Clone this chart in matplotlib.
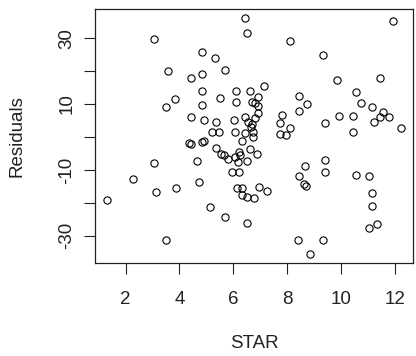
import matplotlib.pyplot as plt

# STAR score vs model residuals
star = [6.42, 6.51, 3.05, 11.94, 8.11, 4.82, 5.32, 9.33, 3.59, 5.71,
        4.43, 4.82, 9.85, 11.46, 7.13, 4.82, 6.11, 6.63, 10.56, 3.82,
        3.51, 5.52, 4.82, 6.11, 6.68, 6.92, 6.92, 6.80, 8.43, 10.73,
        8.73, 8.43, 11.15, 11.55, 11.77, 11.45, 11.24, 12.24, 9.94, 10.46,
        9.41, 7.82, 7.72, 8.11, 7.72, 7.96, 10.46, 4.43, 4.91, 5.34,
        5.21, 5.46, 6.04, 6.44, 6.56, 6.80, 6.92, 6.68, 6.07, 6.44,
        6.74, 6.32, 6.72, 6.66, 4.82, 4.93, 4.36, 4.43, 5.34, 5.53,
        5.64, 5.81, 6.07, 6.21, 6.25, 6.62, 6.89, 6.19, 6.50, 5.95,
        6.22, 1.30, 2.29, 3.04, 3.12, 3.89, 3.51, 4.72, 4.64, 5.12,
        5.71, 6.51, 6.12, 6.34, 6.31, 6.51, 6.78, 6.95, 7.25, 9.42,
        8.65, 9.42, 8.43, 8.64, 8.72, 10.56, 11.03, 11.15, 11.15, 11.33,
        11.03, 8.42, 9.33, 8.86]

residuals = [36.0, 31.5, 29.7, 35.2, 29.0, 25.8, 24.0, 24.8, 20.1, 20.4,
             17.9, 19.0, 17.2, 17.9, 15.5, 13.9, 13.9, 13.9, 13.6, 11.5,
             9.0, 11.9, 9.6, 10.5, 10.7, 12.2, 9.4, 10.2, 12.4, 10.4,
             9.9, 8.0, 9.0, 7.6, 6.2, 6.2, 4.6, 2.8, 6.4, 6.4,
             4.2, 6.8, 4.2, 2.8, 1.0, 0.6, 1.4, 6.2, 5.2, 4.4,
             1.4, 1.6, 5.2, 6.1, 4.5, 5.8, 7.3, 3.9, 1.4, 1.2,
             1.6, -1.1, -0.1, 3.0, -1.5, -1.2, -1.9, -2.2, -3.2, -5.2,
             -5.5, -6.8, -6.0, -4.5, -5.5, -3.5, -5.2, -7.6, -7.3, -10.5,
             -10.5, -19.2, -12.7, -8.0, -16.7, -15.5, -31.3, -13.7, -7.3, -21.3,
             -24.2, -26.0, -15.5, -15.5, -17.7, -18.1, -18.4, -15.2, -16.3, -7.0,
             -8.7, -10.5, -11.9, -14.3, -14.8, -11.6, -11.9, -17.0, -21.0, -26.4,
             -27.5, -31.3, -31.3, -35.4]

x_ticks = [2, 4, 6, 8, 10, 12]
y_ticks = [-30, -20, -10, 0, 10, 20, 30]
y_labels = ['-30', '', '-10', '', '10', '', '30']

plt.rcParams['font.family'] = ['Liberation Sans', 'DejaVu Sans']

fig = plt.figure(figsize=(4.16, 3.56), dpi=100)
ax = fig.add_axes([95 / 416, 1 - 263 / 356, 318 / 416, 254 / 356])

ax.plot(star, residuals, 'o', markersize=5.2, markerfacecolor='none',
        markeredgecolor='black', markeredgewidth=0.8)

# R-style 4% padding around the data
x_lo, x_hi = min(star), max(star)
y_lo, y_hi = min(residuals), max(residuals)
ax.set_xlim(x_lo - 0.04 * (x_hi - x_lo), x_hi + 0.04 * (x_hi - x_lo))
ax.set_ylim(y_lo - 0.04 * (y_hi - y_lo), y_hi + 0.04 * (y_hi - y_lo))

ax.set_xticks(x_ticks)
ax.set_yticks(y_ticks)
ax.set_yticklabels(y_labels, rotation=90, va='center')
ax.tick_params(axis='both', length=8, width=0.8, labelsize=13.5, colors='#222222')
ax.tick_params(axis='x', pad=12)
ax.tick_params(axis='y', pad=6)
for s in ax.spines.values():
    s.set_linewidth(0.9)
    s.set_color('#222222')

fig.text(254 / 416, 1 - 344 / 356, 'STAR', ha='center', va='center',
         fontsize=13.5, color='#222222')
fig.text(17 / 416, 1 - 136 / 356, 'Residuals', ha='center', va='center',
         rotation=90, fontsize=13.5, color='#222222')

fig.savefig('out.png', dpi=100)
